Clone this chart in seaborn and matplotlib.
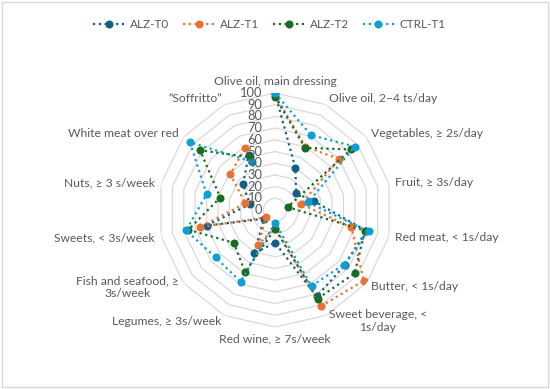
import numpy as np
import pandas as pd
import matplotlib
matplotlib.use("Agg")
import matplotlib.pyplot as plt
import seaborn as sns

categories = [
    "Olive oil, main dressing", "Olive oil, 2\u20134 ts/day", "Vegetables, \u2265 2s/day",
    "Fruit, \u2265 3s/day", "Red meat, < 1s/day", "Butter, < 1s/day",
    "Sweet beverage, <\n1s/day", "Red wine, \u2265 7s/week", "Legumes, \u2265 3s/week",
    "Fish and seafood, \u2265\n3s/week", "Sweets, < 3s/week", "Nuts, \u2265 3 s/week",
    "White meat over red", "\u201cSoffritto\u201d",
]
series_names = ["ALZ-T0", "ALZ-T1", "ALZ-T2", "CTRL-T1"]
alz_t0 = [100, 40, 23, 34, 80, 76, 82, 28, 41, 12, 60, 22, 35, 52]
alz_t1 = [98, 60, 70, 23, 67, 97, 91, 15, 33, 10, 66, 26, 49, 59]
alz_t2 = [97, 59, 83, 11, 79, 87, 84, 16, 59, 45, 76, 48, 82, 50]
ctrl_t1 = [100, 71, 87, 29, 82, 75, 72, 11, 68, 65, 78, 60, 93, 46]
r_ticks = list(range(0, 101, 10))

colors = ["#156082", "#E97132", "#196B24", "#0F9ED5"]
grey_text = "#595959"
grid_col = "#d9d9d9"

sns.set_theme(style="white")
plt.rcParams["font.family"] = ["Lato", "DejaVu Sans"]

n = len(categories)
theta = np.linspace(0, 2 * np.pi, n, endpoint=False)
theta_closed = np.append(theta, theta[0])

rows = []
for name, vals in zip(series_names, [alz_t0, alz_t1, alz_t2, ctrl_t1]):
    for i, v in enumerate(list(vals) + [vals[0]]):
        rows.append({"series": name, "order": i, "theta": theta_closed[i], "value": v})
df = pd.DataFrame(rows)

fig = plt.figure(figsize=(5.5, 3.89), dpi=100)
ax = fig.add_axes([0.2873, 0.1594, 0.4255, 0.6015], projection="polar")
ax.set_theta_zero_location("N")
ax.set_theta_direction(-1)
ax.set_ylim(0, 100)
ax.grid(False)
ax.spines["polar"].set_visible(False)
ax.set_xticks([])
ax.set_yticks([])

# polygon rings like Excel radar
for r in r_ticks[1:]:
    ax.plot(theta_closed, [r] * len(theta_closed), color=grid_col, lw=0.9, zorder=1)

for name, col in zip(series_names, colors):
    sub = df[df["series"] == name]
    sns.lineplot(data=sub, x="theta", y="value", sort=False, ax=ax, color=col,
                 linestyle=(0, (1, 1.6)), linewidth=1.6, marker="o", markersize=5.8,
                 markeredgewidth=0, label=name, zorder=3, legend=False)

ax.set_xlabel("")
ax.set_ylabel("")

for t, lab in zip(theta, categories):
    s, c = np.sin(t), np.cos(t)
    if abs(s) < 0.1:
        ha = "center"
        va = "bottom" if c > 0 else "top"
    else:
        ha = "left" if s > 0 else "right"
        va = "center"
    ax.annotate(lab, xy=(t, 100), xytext=(s * 4.5, c * 4.5), textcoords="offset points",
                ha=ha, va=va, fontsize=8.7, color=grey_text, multialignment="center",
                annotation_clip=False)

for r in r_ticks:
    ax.annotate(str(r), xy=(0, r), xytext=(-9, 0), textcoords="offset points",
                ha="right", va="center", fontsize=9.3, color=grey_text, annotation_clip=False)

handles = [plt.Line2D([], [], color=c, linestyle=(0, (1, 1.6)), linewidth=1.6,
                      marker="o", markersize=5.8, markeredgewidth=0) for c in colors]
fig.legend(handles, series_names, loc="center", bbox_to_anchor=(0.49, 0.936), ncol=4,
           frameon=False, fontsize=8.5, handlelength=2.6, columnspacing=1.2,
           handletextpad=0.5, labelcolor=grey_text)

fig.patches.append(plt.Rectangle((0.004, 0.005), 0.992, 0.99, transform=fig.transFigure,
                                 fill=False, edgecolor=grid_col, lw=1))

fig.savefig("out.png", dpi=100)
